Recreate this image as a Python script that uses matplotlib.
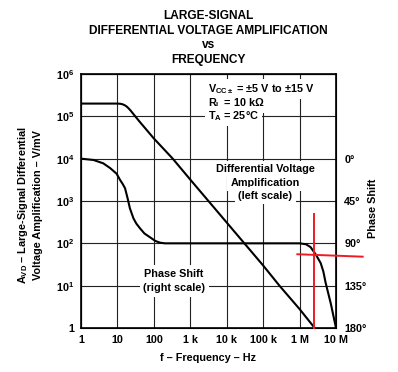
import matplotlib
matplotlib.use('Agg')
import matplotlib.pyplot as plt
from matplotlib.ticker import FixedLocator, FixedFormatter, NullLocator

plt.rcParams['font.family'] = ['Liberation Sans', 'DejaVu Sans']
plt.rcParams['font.weight'] = 'bold'
plt.rcParams['mathtext.fontset'] = 'custom'
plt.rcParams['mathtext.rm'] = 'Liberation Sans:bold'
plt.rcParams['mathtext.bf'] = 'Liberation Sans:bold'
plt.rcParams['mathtext.it'] = 'Liberation Sans:bold'
plt.rcParams['mathtext.default'] = 'bf'

# gain curve (left scale, V/mV)
gain_freq = [1, 5, 10, 12, 14, 16, 18, 20, 23, 26, 30, 40, 100, 330, 1e3, 1e4, 1e5, 2.8e5, 1e6, 2.6e6]
gain_vals = [2e5, 2e5, 2e5, 1.98e5, 1.92e5, 1.82e5, 1.70e5, 1.56e5, 1.37e5, 1.2e5, 1.03e5, 7.6e4,
             3e4, 1e4, 3.2e3, 3.1e2, 30, 10, 2.8, 1]

# phase curve (right scale, degrees)
phase_freq = [1, 2.2, 4.1, 6.3, 9.5, 11.8, 14, 16.2, 19, 22, 27.5, 33, 41.6, 55, 78, 110, 148, 200,
              1e6, 1.5e6, 2e6, 2.8e6, 3.8e6, 4.5e6, 5.2e6, 7.2e6, 1e7]
phase_vals = [0, 1.4, 5, 10, 16, 22.6, 27, 31.5, 42, 52.8, 63.4, 69, 74, 79.5, 83.5, 87.5, 89.3, 90,
              90, 91, 94, 102, 111, 120, 132, 154, 180]

# red marker lines drawn over the chart
red_v_freq = [2.5e6, 2.5e6]
red_v_phase = [58.8, 180]
red_h_freq = [0.87e6, 5.4e7]
red_h_phase = [101.6, 104.2]

x_ticks = [1, 10, 100, 1e3, 1e4, 1e5, 1e6, 1e7]
x_labels = ['1', '10', '100', '1 k', '10 k', '100 k', '1 M', '10 M']
y_ticks = [1, 10, 100, 1e3, 1e4, 1e5, 1e6]
y_labels = ['1', '10$^{1}$', '10$^{2}$', '10$^{3}$', '10$^{4}$', '10$^{5}$', '10$^{6}$']
phase_ticks = [0, 45, 90, 135, 180]
phase_labels = ['0°', '45°', '90°', '135°', '180°']

fig = plt.figure(figsize=(3.98, 3.72), dpi=100)
ax = fig.add_axes([0.2035, 0.1183, 0.6407, 0.6828])
ax.set_xscale('log')
ax.set_yscale('log')
ax.set_xlim(1, 1e7)
ax.set_ylim(1, 1e6)
ax.xaxis.set_major_locator(FixedLocator(x_ticks))
ax.xaxis.set_major_formatter(FixedFormatter(x_labels))
ax.yaxis.set_major_locator(FixedLocator(y_ticks))
ax.yaxis.set_major_formatter(FixedFormatter(y_labels))
ax.xaxis.set_minor_locator(NullLocator())
ax.yaxis.set_minor_locator(NullLocator())
ax.tick_params(length=0, labelsize=7.8)
ax.tick_params(axis='y', pad=5)
ax.tick_params(axis='x', pad=5)
ax.grid(True, color='#222222', lw=0.8)
ax.set_axisbelow(True)
for s in ax.spines.values():
    s.set_linewidth(1.2)

ax.plot(gain_freq, gain_vals, color='black', lw=1.5, zorder=3)

ax2 = ax.twinx()
ax2.set_ylim(180, -90)
ax2.yaxis.set_major_locator(FixedLocator(phase_ticks))
ax2.yaxis.set_major_formatter(FixedFormatter(phase_labels))
ax2.tick_params(length=0, labelsize=7.8, pad=6)
ax2.plot(phase_freq, phase_vals, color='black', lw=1.5, zorder=3)
ax2.plot(red_v_freq, red_v_phase, color='#ED1C24', lw=1.4, clip_on=False, zorder=4)
ax2.plot(red_h_freq, red_h_phase, color='#ED1C24', lw=1.4, clip_on=False, zorder=4)

box = dict(facecolor='white', edgecolor='none', pad=2.5)
fs = 7.8
ax.text(0.498, 0.941, 'V$_{CC\\pm}$ = ±5 V to ±15 V', transform=ax.transAxes,
        fontsize=fs, ha='left', va='center', bbox=box, zorder=5)
ax.text(0.498, 0.886, 'R$_{L}$ = 10 kΩ', transform=ax.transAxes,
        fontsize=fs, ha='left', va='center', bbox=box, zorder=5)
ax.text(0.498, 0.835, 'T$_{A}$ = 25°C', transform=ax.transAxes,
        fontsize=fs, ha='left', va='center', bbox=box, zorder=5)

for txt, yy in [('Differential Voltage', 0.626), ('Amplification', 0.571), ('(left scale)', 0.520)]:
    ax.text(0.722, yy, txt, transform=ax.transAxes, fontsize=fs,
            ha='center', va='center', bbox=box, zorder=5)
for txt, yy in [('Phase Shift', 0.213), ('(right scale)', 0.157)]:
    ax.text(0.365, yy, txt, transform=ax.transAxes, fontsize=fs,
            ha='center', va='center', bbox=box, zorder=5)

# titles and axis labels
cx = 208.5 / 398
fig.text(cx, 1 - 16 / 372, 'LARGE-SIGNAL', ha='center', va='center', fontsize=8.6)
fig.text(cx, 1 - 31 / 372, 'DIFFERENTIAL VOLTAGE AMPLIFICATION', ha='center', va='center', fontsize=8.6)
fig.text(cx, 1 - 45.5 / 372, 'vs', ha='center', va='center', fontsize=8.6)
fig.text(cx, 1 - 60 / 372, 'FREQUENCY', ha='center', va='center', fontsize=8.6)

fig.text(29.5 / 398, 1 - 205 / 372,
         'A$_{VD}$ – Large-Signal Differential\nVoltage Amplification – V/mV',
         rotation=90, ha='center', va='center', fontsize=7.8, multialignment='center',
         linespacing=1.3)
fig.text(373 / 398, 1 - 208 / 372, 'Phase Shift', rotation=90,
         ha='center', va='center', fontsize=7.8)
fig.text(cx, 1 - 358 / 372, 'f – Frequency – Hz', ha='center', va='center', fontsize=7.8)

fig.savefig('out.png', dpi=100)
